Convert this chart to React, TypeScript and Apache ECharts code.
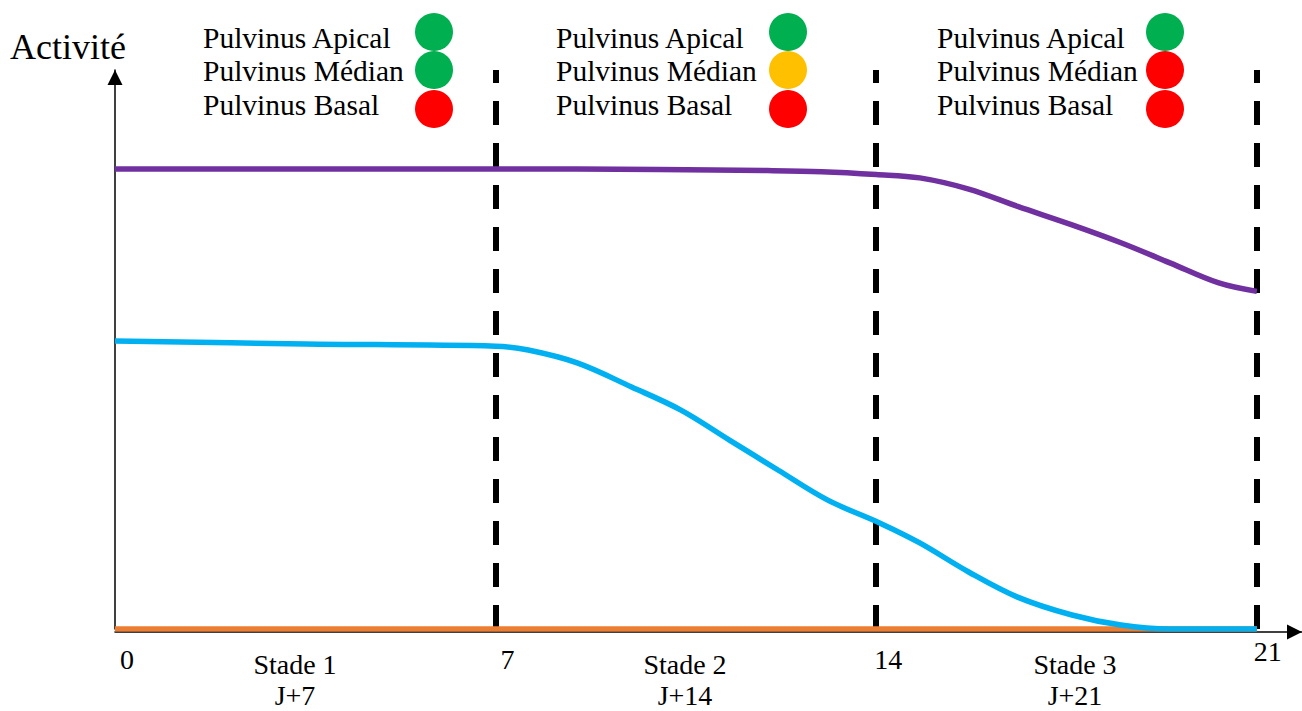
import React, { useEffect, useRef } from 'react';
import * as echarts from 'echarts';

// ---- data ----
const xTicks = [0, 7, 14, 21];
const stageBoundaries = [7, 14, 21];
const stageLabels = ['Stade 1\nJ+7', 'Stade 2\nJ+14', 'Stade 3\nJ+21'];
const yAxisTitle = 'Activité';

const purpleValues = [
  [0, 82.3], [3.5, 82.3], [7, 82.3], [10, 82.2], [12, 82.0], [13, 81.8], [14, 81.3],
  [14.8, 80.7], [15.7, 78.7], [16.6, 75.6], [17.6, 72.3], [18.5, 69.1], [19.4, 65.5],
  [20.3, 61.9], [21, 60.4],
];
const cyanValues = [
  [0, 51.5], [3.5, 51.0], [7, 50.6], [7.6, 49.9], [8.5, 47.6], [9.5, 43.3], [10.4, 39.2],
  [11.3, 33.8], [12.2, 28.4], [13.1, 23.1], [14.1, 18.8], [14.8, 15.4], [15.7, 10.2],
  [16.6, 5.7], [17.6, 2.5], [18.5, 0.7], [19.4, 0], [21, 0],
];
const orangeValues = [[0, 0], [21, 0]];

const pulvinusNames = ['Pulvinus Apical', 'Pulvinus Médian', 'Pulvinus Basal'];
const stageStatus = [
  ['vert', 'vert', 'rouge'],
  ['vert', 'orange', 'rouge'],
  ['vert', 'rouge', 'rouge'],
];
const statusColors: Record<string, string> = { vert: '#00B050', orange: '#FFC000', rouge: '#FF0000' };

// ---- layout ----
const FONT = 'Liberation Serif';
const legendTextX = [203, 556, 937];
const legendDotX = [434, 788, 1165];
const rowTextY = [38, 71, 105];
const rowDotY = [32, 70, 109];

export default function App() {
  const ref = useRef<HTMLDivElement>(null);
  useEffect(() => {
    if (!ref.current) return;
    const chart = echarts.init(ref.current, null, { renderer: 'svg' });

    const circles: any[] = [];
    const titles: any[] = [
      {
        text: yAxisTitle, left: 10, top: 47 - 18, padding: 0,
        textStyle: { fontSize: 36, lineHeight: 36, fontFamily: FONT, color: '#000', fontWeight: 'normal' },
      },
    ];
    stageStatus.forEach((col, i) => {
      col.forEach((st, j) => {
        titles.push({
          text: pulvinusNames[j], left: legendTextX[i], top: rowTextY[j] - 15, padding: 0,
          textStyle: { fontSize: 29.5, lineHeight: 30, fontFamily: FONT, color: '#000', fontWeight: 'normal' },
        });
        circles.push({
          type: 'circle', shape: { cx: legendDotX[i], cy: rowDotY[j], r: 19 },
          style: { fill: statusColors[st] },
        });
      });
    });

    const axisArrow = {
      show: true, onZero: false, symbol: ['none', 'triangle'], symbolSize: [15, 15],
      symbolOffset: [0, -7.5], lineStyle: { color: '#000', width: 1.5 },
    };

    chart.setOption({
      animation: false,
      backgroundColor: '#fff',
      title: titles,
      grid: [
        { left: 115, right: 0, top: 70, bottom: 82 },
        { left: 100, width: 1170, top: 70, bottom: 82 },
      ],
      xAxis: [
        {
          gridIndex: 0, type: 'value', min: 0, max: 21.83, interval: 7, position: 'bottom', offset: 3,
          axisLine: axisArrow, axisTick: { show: false }, splitLine: { show: false },
          axisLabel: {
            formatter: (v: number) => (xTicks.includes(v) && v !== 21 ? String(v) : ''),
            fontSize: 28, fontFamily: FONT, color: '#000', margin: 13, padding: [0, 0, 0, 24],
            showMaxLabel: false,
          },
        },
        {
          gridIndex: 0, type: 'value', min: 0, max: 21.83, interval: 7, position: 'bottom', offset: 3,
          axisLine: { show: false }, axisTick: { show: false }, splitLine: { show: false },
          axisLabel: {
            formatter: (v: number) => (v === 21 ? String(v) : ''),
            fontSize: 28, fontFamily: FONT, color: '#000', margin: 5, padding: [0, 0, 0, 22],
            showMaxLabel: false,
          },
        },
        {
          gridIndex: 1, type: 'category', data: stageLabels, position: 'bottom', offset: 3,
          boundaryGap: true, axisLine: { show: false }, axisTick: { show: false },
          axisLabel: { fontSize: 28, lineHeight: 31, fontFamily: FONT, color: '#000', margin: 17, interval: 0 },
        },
      ],
      yAxis: [
        {
          gridIndex: 0, type: 'value', min: 0, max: 100,
          axisLine: axisArrow, axisTick: { show: false }, axisLabel: { show: false }, splitLine: { show: false },
        },
        { gridIndex: 1, type: 'value', show: false },
      ],
      graphic: [{ type: 'group', children: circles }],
      series: [
        {
          type: 'line', xAxisIndex: 0, yAxisIndex: 0, data: orangeValues, showSymbol: false, z: 2,
          lineStyle: { color: '#ED7D31', width: 5.5 },
          markLine: {
            silent: true, z: 1, symbol: ['none', 'none'], label: { show: false },
            lineStyle: { color: '#000', width: 6, type: [24, 18] },
            data: stageBoundaries.map((x) => ({ xAxis: x })),
          },
        },
        {
          type: 'line', xAxisIndex: 0, yAxisIndex: 0, data: purpleValues, showSymbol: false, z: 3,
          smooth: 0.35, lineStyle: { color: '#7030A0', width: 5.5 },
        },
        {
          type: 'line', xAxisIndex: 0, yAxisIndex: 0, data: cyanValues, showSymbol: false, z: 3,
          smooth: 0.35, lineStyle: { color: '#00B0F0', width: 5.5 },
        },
      ],
    });
    return () => chart.dispose();
  }, []);
  return <div ref={ref} style={{ position: 'absolute', left: 0, top: 0, width: 1302, height: 711 }} />;
}
